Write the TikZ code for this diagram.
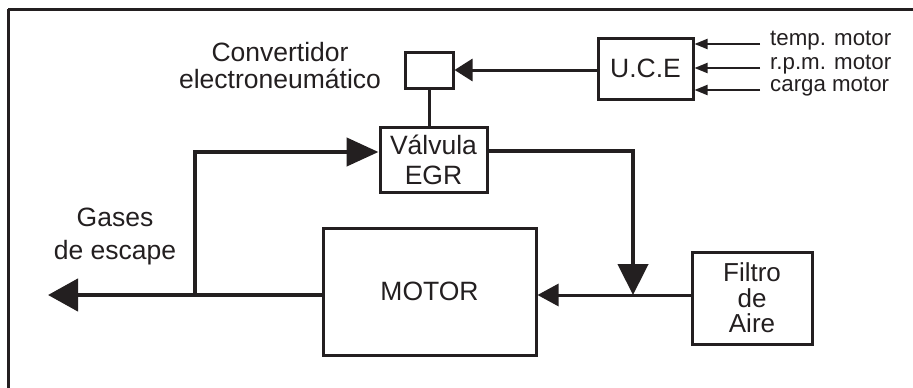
\documentclass[tikz,border=0pt]{standalone}
\usepackage{fontspec}
\setmainfont{Liberation Sans}
\usetikzlibrary{arrows.meta}
\definecolor{ink}{HTML}{231F20}
\begin{document}
\begin{tikzpicture}[x=1pt,y=-1pt,
  box/.style={draw=ink,line width=3pt,inner sep=0pt,fill=white},
  lbl/.style={text=ink,font=\fontsize{26.5}{27}\selectfont,align=center,inner sep=0pt},
  small/.style={text=ink,font=\fontsize{22.3}{23}\selectfont,inner sep=0pt,anchor=west},
  pipe/.style={draw=ink,line width=4.5pt},
  wire/.style={draw=ink,line width=3pt},
  fine/.style={draw=ink,line width=2pt}]
\useasboundingbox (0,0) rectangle (913,388);
\draw[ink,line width=3pt] (8,9) -- (8,400);
\draw[ink,line width=3pt] (8,9) -- (930,9);

\node[box,minimum width=48pt,minimum height=36pt] (conv) at (429,70) {};
\node[box,minimum width=95pt,minimum height=61pt,lbl] (uce) at (645.5,68.5) {U.C.E};
\node[box,minimum width=107pt,minimum height=65pt,lbl,font=\fontsize{26.5}{30}\selectfont] (valve) at (433.5,159.5) {Válvula\\EGR};
\node[box,minimum width=213pt,minimum height=127pt,lbl] (motor) at (429.5,291.5) {MOTOR};
\node[box,minimum width=120pt,minimum height=92pt,lbl,font=\fontsize{26}{25.5}\selectfont] (filter) at (752,298) {Filtro\\de\\Aire};

\node[lbl] (convlbl) at (280,66) {Convertidor\\electroneumático};
\node[lbl,font=\fontsize{26.5}{33}\selectfont] (gaslbl) at (115,236) {Gases\\de escape};

\node[small] (t1) at (770,41) {temp. motor};
\node[small] (t2) at (770,64.5) {r.p.m. motor};
\node[small] (t3) at (770,87) {carga motor};

\coordinate (j) at (633,295);
\coordinate (d) at (633,151);
\coordinate (b) at (195,295);
\coordinate (c) at (195,152);
\coordinate (e) at (48,295);
\coordinate (s1) at (760,44);
\coordinate (s2) at (760,68);
\coordinate (s3) at (760,90);

\draw[wire,-{Triangle[length=21pt,width=22pt]}] (filter.west |- j) -- (motor.east |- j);
\draw[pipe,-{Triangle[length=31pt,width=30pt]}] (valve.east |- d) -- (d) -- (j);
\draw[pipe,-{Triangle[length=30pt,width=32pt]}] (motor.west |- b) -- (e);
\draw[pipe,-{Triangle[length=32pt,width=28pt]}] (b) -- (c) -- (valve.west |- c);
\draw[wire] (conv.south) -- (conv.south |- valve.north);
\draw[wire,-{Triangle[length=18pt,width=22pt]}] (uce.west |- conv) -- (conv.east);
\draw[fine,-{Triangle[length=13pt,width=10pt]}] (s1) -- (uce.east |- s1);
\draw[fine,-{Triangle[length=13pt,width=10pt]}] (s2) -- (uce.east |- s2);
\draw[fine,-{Triangle[length=13pt,width=10pt]}] (s3) -- (uce.east |- s3);
\end{tikzpicture}
\end{document}
